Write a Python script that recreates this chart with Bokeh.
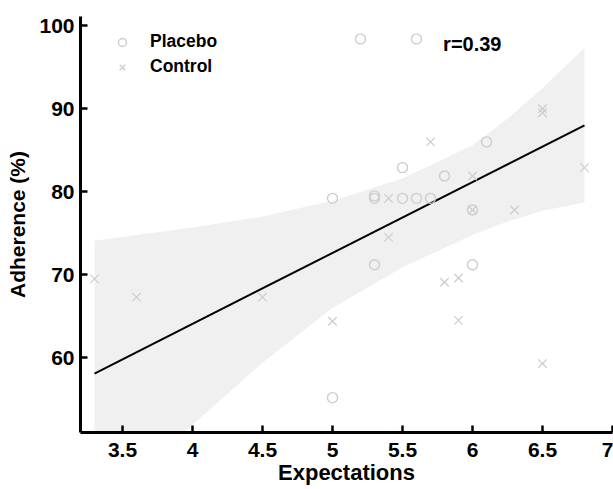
from bokeh.plotting import figure
from bokeh.models import Range1d, FixedTicker, Legend, LegendItem, Label
from bokeh.embed import file_html
from bokeh.resources import INLINE

# ---- data ----
placebo_x = [5.2, 5.6, 6.1, 5.5, 5.8, 5.0, 5.3, 5.3, 5.5, 5.6, 5.7, 6.0, 5.3, 6.0, 5.0]
placebo_y = [98.4, 98.4, 86.0, 82.9, 81.9, 79.2, 79.5, 79.2, 79.2, 79.2, 79.2, 77.8, 71.2, 71.2, 55.2]

control_x = [5.7, 6.0, 6.5, 6.5, 6.8, 5.4, 5.4, 6.0, 6.3, 5.8, 5.9, 5.9, 5.0, 6.5, 3.3, 3.6, 4.5]
control_y = [86.0, 81.9, 90.0, 89.5, 82.9, 79.2, 74.5, 77.8, 77.8, 69.1, 69.6, 64.5, 64.4, 59.3, 69.5, 67.3, 67.3]

fit_x = [3.3, 6.8]
fit_y = [58.1, 88.0]

band_x = [3.3, 3.6, 4.0, 4.5, 5.0, 5.5, 6.0, 6.25, 6.5, 6.8]
band_upper = [74.1, 74.8, 75.7, 77.0, 78.9, 81.6, 85.6, 88.8, 92.5, 97.3]
band_lower = [42.0, 46.2, 51.9, 59.4, 66.0, 70.9, 74.8, 76.4, 77.7, 78.7]

x_ticks = [3.5, 4, 4.5, 5, 5.5, 6, 6.5, 7]
x_tick_labels = ["3.5", "4", "4.5", "5", "5.5", "6", "6.5", "7"]
y_ticks = [60, 70, 80, 90, 100]
y_tick_labels = ["60", "70", "80", "90", "100"]

r_text = "r=0.39"
series_names = ["Placebo", "Control"]
x_title = "Expectations"
y_title = "Adherence (%)"

FONT = "Liberation Sans"
MARK = "#cdcdcd"

p = figure(width=613, height=489, output_backend="svg", toolbar_location=None,
           x_range=Range1d(3.2, 7.0), y_range=Range1d(51.0, 101.1),
           min_border_left=80, min_border_right=1, min_border_top=16, min_border_bottom=57)
p.outline_line_color = None
p.xgrid.visible = False
p.ygrid.visible = False
p.background_fill_color = "white"
p.border_fill_color = "white"

# confidence band + fit
p.varea(x=band_x, y1=band_lower, y2=band_upper, fill_color="#f0f0f0")
p.line(fit_x, fit_y, line_color="black", line_width=2)

r1 = p.scatter(placebo_x, placebo_y, marker="circle", size=10, fill_color=None,
               line_color=MARK, line_width=1.4)
r2 = p.scatter(control_x, control_y, marker="x", size=12,
               line_color=MARK, line_width=1.3)

for ax, ticks, labels in ((p.xaxis[0], x_ticks, x_tick_labels), (p.yaxis[0], y_ticks, y_tick_labels)):
    ax.ticker = FixedTicker(ticks=ticks)
    ax.major_label_overrides = {t: l for t, l in zip(ticks, labels)}
    ax.axis_line_width = 3
    ax.axis_line_color = "black"
    ax.major_tick_line_width = 2.5
    ax.major_tick_in = 7
    ax.major_tick_out = 0
    ax.minor_tick_line_color = None
    ax.major_label_text_font = FONT
    ax.major_label_text_font_style = "bold"
    ax.major_label_text_font_size = "21px"
    ax.major_label_text_color = "black"
    ax.axis_label_text_font = FONT
    ax.axis_label_text_font_style = "bold"
    ax.axis_label_text_font_size = "21px"
    ax.axis_label_text_color = "black"

p.xaxis.axis_label = x_title
p.yaxis.axis_label = y_title
p.xaxis.axis_label_text_font_size = "22px"
p.xaxis.major_label_standoff = 10
p.xaxis.axis_label_standoff = 0
p.yaxis.major_label_standoff = 6
p.yaxis.axis_label_standoff = 7

legend = Legend(items=[LegendItem(label=series_names[0], renderers=[r1]),
                       LegendItem(label=series_names[1], renderers=[r2])],
                location=(32, 355), orientation="vertical")
legend.padding = 0
legend.margin = 0
legend.spacing = 4
legend.glyph_height = 20
legend.glyph_width = 20
legend.label_height = 20
legend.label_standoff = 18
legend.label_text_font = FONT
legend.label_text_font_style = "bold"
legend.label_text_font_size = "17.5px"
legend.label_text_color = "black"
legend.border_line_color = None
legend.background_fill_alpha = 0
p.add_layout(legend)

p.add_layout(Label(x=5.79, y=97.8, text=r_text, text_font=FONT, text_font_style="bold",
                   text_font_size="20px", text_baseline="middle", text_align="left",
                   text_color="black"))

open("out.html", "w").write(file_html(p, INLINE))
